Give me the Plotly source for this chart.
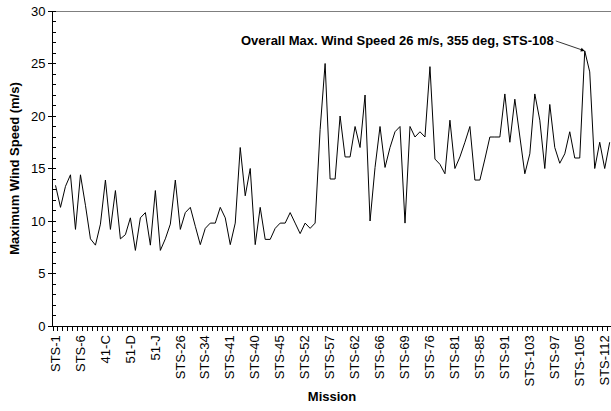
import plotly.graph_objects as go

# Maximum wind speed per mission (m/s), in flight order
wind_speed = [
    13.4, 11.3, 13.3, 14.4, 9.2, 14.4, 11.5, 8.3, 7.7, 9.7,
    13.9, 9.2, 12.9, 8.3, 8.7, 10.3, 7.2, 10.3, 10.8, 7.7,
    12.9, 7.2, 8.3, 9.7, 13.9, 9.2, 10.8, 11.3, 9.5, 7.75,
    9.3, 9.8, 9.8, 11.3, 10.3, 7.75, 9.8, 17.0, 12.4, 15.0,
    7.75, 11.3, 8.25, 8.25, 9.3, 9.8, 9.8, 10.8, 9.8, 8.8,
    9.8, 9.3, 9.8, 18.7, 25.0, 14.0, 14.0, 20.0, 16.1, 16.1,
    19.0, 17.0, 22.0, 10.0, 15.1, 19.0, 15.1, 17.0, 18.5, 19.0,
    9.8, 19.0, 18.0, 18.5, 18.0, 24.7, 15.9, 15.4, 14.5, 19.6,
    15.0, 16.1, 17.5, 19.0, 13.9, 13.9, 15.9, 18.0, 18.0, 18.0,
    22.1, 17.5, 21.6, 18.0, 14.5, 16.4, 22.1, 19.6, 15.0, 21.1,
    17.0, 15.5, 16.4, 18.5, 16.0, 16.0, 26.2, 24.2, 15.0, 17.5,
    15.0, 17.5,
]
mission_index = list(range(len(wind_speed)))

# Labelled missions (every 5th flight)
tick_positions = list(range(0, 111, 5))
tick_labels = [
    "STS-1", "STS-6", "41-C", "51-D", "51-J", "STS-26", "STS-34", "STS-41",
    "STS-40", "STS-45", "STS-52", "STS-57", "STS-62", "STS-66", "STS-69",
    "STS-76", "STS-81", "STS-85", "STS-91", "STS-103", "STS-97", "STS-105",
    "STS-112",
]

max_index = 106
max_label = "Overall Max. Wind Speed 26 m/s, 355 deg, STS-108"

FONT = "Liberation Sans, Arial, Helvetica, sans-serif"

fig = go.Figure()
fig.add_trace(go.Scatter(
    x=mission_index, y=wind_speed, mode="lines",
    line=dict(color="black", width=1),
    showlegend=False, hoverinfo="x+y",
))

fig.add_annotation(
    x=max_index, y=wind_speed[max_index], xref="x", yref="y",
    text="<b>" + max_label + "</b>",
    showarrow=True, arrowhead=2, arrowsize=1, arrowwidth=0.8, arrowcolor="black",
    ax=-29, ay=-10, xanchor="right", yanchor="middle",
    font=dict(family=FONT, size=13, color="black"),
)

# top border of plot area
fig.add_shape(type="line", xref="paper", yref="y", x0=0, x1=1, y0=30, y1=30,
              line=dict(color="black", width=1))

fig.update_layout(
    width=611, height=411,
    margin=dict(l=53, r=0, t=11, b=85),
    paper_bgcolor="white", plot_bgcolor="white",
    font=dict(family=FONT, size=13, color="black"),
)

fig.update_xaxes(
    automargin=False,
    range=[-0.5, 111.26],
    tickmode="array", tickvals=tick_positions, ticktext=tick_labels,
    tickangle=-90, tickfont=dict(family=FONT, size=13, color="black"),
    ticklabeloverflow="allow",
    ticks="outside", ticklen=3, tickcolor="rgba(0,0,0,0)",
    minor=dict(tick0=-0.5, dtick=1, ticks="outside", ticklen=4,
               tickcolor="black", tickwidth=1, showgrid=False),
    showline=True, linecolor="black", linewidth=1,
    showgrid=False, zeroline=False,
    title=dict(text="<b>Mission</b>", font=dict(family=FONT, size=13, color="black"),
               standoff=6),
)

fig.update_yaxes(
    automargin=False,
    range=[0, 30], tickmode="linear", tick0=0, dtick=5,
    ticks="outside", ticklen=4, tickcolor="black", tickwidth=1,
    tickfont=dict(family=FONT, size=13, color="black"),
    minor=dict(dtick=1, ticks="inside", ticklen=3, tickcolor="black",
               tickwidth=1, showgrid=False),
    showline=True, linecolor="black", linewidth=1,
    showgrid=False, zeroline=False,
    title=dict(text="<b>Maximum Wind Speed (m/s)</b>",
               font=dict(family=FONT, size=13, color="black"), standoff=8),
)

fig.write_html("out.html", config={"displayModeBar": False},
               post_script="document.body.style.margin='0';")
